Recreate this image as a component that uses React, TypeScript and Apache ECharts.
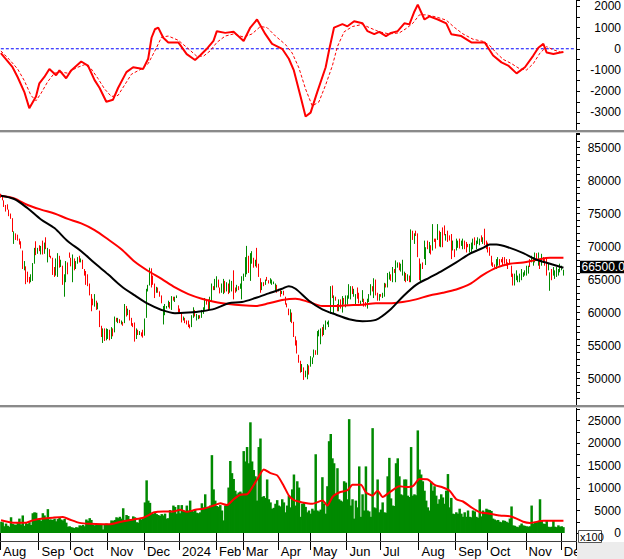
import React, { useEffect, useRef } from 'react';
import * as echarts from 'echarts';

// ---- x axis: trading-day slots, month labels ----
const monthLabels = ['Aug', 'Sep', 'Oct', 'Nov', 'Dec', '2024', 'Feb', 'Mar', 'Apr', 'May', 'Jun', 'Jul', 'Aug', 'Sep', 'Oct', 'Nov', 'Dec'];
const monthStarts = [0, 23, 42, 64, 86, 107, 129, 145, 166, 185, 207, 227, 250, 272, 291, 314, 335];
const TOTAL_SLOTS = 344;

// ---- price (thousand VND): [open, close] per trading day ----
const candleOC: number[][] = [
  [78.0,77.4],[77.6,77.0],[77.0,76.0],[76.3,75.3],[76.4,75.6],[75.6,74.6],[75.0,74.2],[74.3,72.2],[70.4,72.3],[72.0,71.0],
  [71.8,70.9],[71.2,70.3],[70.8,69.7],[69.4,66.6],[66.4,67.8],[67.0,64.3],[66.2,64.6],[65.4,64.4],[64.6,65.8],[64.8,67.5],
  [67.4,69.8],[70.8,68.7],[68.9,69.8],[70.2,69.3],[68.8,70.1],[70.9,68.8],[68.9,70.6],[71.4,69.6],[67.6,69.8],[69.6,68.4],
  [68.6,68.2],[68.3,65.7],[66.9,65.4],[65.6,68.2],[65.4,69.0],[68.6,66.8],[66.9,68.0],[67.1,64.2],[62.4,65.8],[64.6,67.8],
  [67.6,65.8],[69.1,68.3],[68.3,67.0],[64.6,68.8],[68.2,66.4],[66.6,67.8],[67.4,68.4],[68.6,67.6],[67.6,68.2],[68.0,66.6],
  [66.6,65.6],[66.3,64.2],[65.8,64.0],[64.4,62.6],[62.8,60.2],[62.1,61.1],[60.9,62.8],[61.8,60.4],[60.5,61.5],[60.3,57.8],
  [58.0,56.3],[55.4,57.6],[57.6,55.7],[55.8,57.6],[56.0,57.5],[57.4,55.8],[56.0,57.8],[57.6,56.4],[57.0,59.4],[59.2,58.6],
  [58.4,59.2],[59.0,58.4],[58.2,58.8],[58.6,58.0],[58.4,61.3],[61.0,59.4],[59.6,60.6],[60.4,58.8],[59.2,58.0],[58.4,57.8],
  [58.5,55.6],[56.0,57.6],[57.4,56.6],[56.6,57.2],[57.0,56.4],[57.4,56.2],[56.5,59.1],[59.2,63.6],[63.2,64.2],[64.1,66.8],
  [66.7,63.8],[65.6,64.2],[64.4,62.2],[63.0,63.9],[63.8,63.0],[63.2,62.4],[62.6,61.4],[58.2,61.0],[59.6,61.3],[60.6,61.0],
  [60.8,61.8],[61.6,60.6],[60.4,62.5],[62.4,61.8],[61.6,62.4],[62.2,62.6],[61.1,60.0],[60.6,59.9],[60.0,58.5],[58.8,59.4],
  [59.2,58.4],[58.8,58.2],[58.8,57.8],[58.2,57.6],[57.8,59.6],[59.2,60.8],[60.4,59.4],[58.8,59.8],[59.0,59.6],[59.6,59.1],
  [59.2,60.4],[59.8,60.8],[60.4,62.2],[61.8,61.2],[62.0,60.4],[60.4,62.4],[61.6,64.4],[64.0,63.4],[63.4,65.1],[63.8,65.5],
  [65.0,63.8],[63.8,62.9],[63.0,64.4],[62.8,65.1],[64.8,63.0],[63.2,64.6],[64.4,62.8],[63.0,65.0],[63.2,64.8],[66.4,62.0],
  [63.8,63.0],[63.2,64.2],[64.0,63.4],[63.6,64.4],[62.0,65.5],[64.8,65.9],[65.4,68.4],[65.8,70.1],[68.6,66.0],[64.8,69.0],
  [67.4,69.3],[68.3,66.8],[67.0,68.0],[69.8,66.8],[67.4,65.4],[65.2,63.0],[63.4,64.6],[64.6,64.0],[64.2,65.0],[65.4,64.8],
  [64.9,64.4],[64.4,65.2],[64.2,65.0],[64.3,64.7],[63.2,64.4],[64.2,63.0],[63.6,63.2],[63.4,62.4],[62.8,63.3],[63.3,62.6],
  [62.4,61.2],[61.4,60.8],[60.6,59.6],[58.6,60.5],[60.0,58.4],[58.6,56.3],[56.4,55.0],[55.8,53.8],[53.6,52.4],[52.7,50.9],
  [51.0,52.2],[51.7,49.8],[50.2,51.2],[49.9,52.2],[52.0,50.6],[51.8,53.4],[52.2,53.2],[53.2,54.4],[54.3,53.6],[53.6,57.2],
  [56.4,57.4],[55.2,57.6],[57.8,56.4],[56.6,58.2],[57.4,58.8],[58.2,58.6],[57.8,58.8],[59.8,64.0],[64.1,62.2],[59.9,62.6],
  [62.4,61.8],[61.3,60.2],[60.2,62.0],[62.0,60.6],[60.0,62.5],[62.2,61.2],[60.8,62.6],[61.2,62.6],[62.1,64.3],[62.0,64.0],
  [64.0,62.8],[62.4,63.6],[61.2,62.8],[63.8,62.1],[63.0,61.4],[61.2,61.8],[61.6,63.4],[62.1,60.9],[61.6,60.9],[60.6,62.1],
  [61.6,62.8],[62.6,64.3],[64.0,63.2],[62.2,65.2],[65.0,62.6],[63.0,61.8],[61.8,62.8],[62.8,62.4],[62.2,63.0],[62.4,64.5],
  [64.4,63.8],[63.8,66.0],[65.0,66.2],[65.8,64.8],[64.6,66.9],[66.6,66.0],[64.6,67.9],[66.8,67.6],[67.6,66.4],[66.2,67.4],
  [65.6,68.0],[64.8,66.2],[66.0,64.6],[64.8,65.8],[65.6,64.6],[64.6,72.6],[72.4,71.0],[70.4,72.0],[72.4,71.6],[72.0,68.4],
  [68.2,64.9],[64.6,67.4],[67.6,66.6],[68.1,70.9],[67.2,69.9],[70.9,69.6],[69.0,70.7],[70.2,68.8],[69.4,73.4],[71.2,70.7],
  [71.2,69.7],[71.0,73.4],[72.4,70.0],[69.9,72.2],[72.9,69.9],[73.2,71.7],[70.9,71.9],[72.4,70.7],[71.7,70.9],[71.9,68.1],
  [69.4,70.9],[69.6,68.4],[69.4,71.2],[69.8,70.9],[71.2,69.7],[70.1,70.9],[69.6,71.2],[70.9,69.6],[70.7,69.1],[70.4,69.9],
  [69.1,70.4],[69.2,70.6],[69.6,71.2],[71.4,70.2],[69.6,70.9],[70.4,71.4],[70.2,71.2],[71.7,70.7],[70.4,71.4],[72.7,70.2],
  [70.9,69.6],[70.6,69.1],[69.9,68.6],[68.6,67.1],[67.6,66.9],[67.3,66.8],[66.6,68.1],[67.1,68.4],[68.1,67.1],[68.1,67.6],
  [68.4,67.1],[68.4,67.4],[68.1,67.1],[67.6,66.6],[68.1,67.4],[67.1,65.4],[65.9,64.1],[64.1,65.9],[64.9,66.4],[64.6,65.6],
  [64.6,65.9],[64.9,66.6],[65.4,66.1],[65.6,66.4],[65.6,67.1],[65.9,67.1],[68.1,66.9],[67.6,68.6],[67.1,68.4],[67.6,69.1],
  [69.0,68.1],[67.1,69.1],[67.9,66.6],[67.1,68.9],[68.4,67.6],[68.1,67.1],[68.4,65.6],[66.4,67.4],[63.3,66.1],[66.6,64.9],
  [65.6,66.9],[65.1,66.4],[65.4,66.9],[65.6,66.6],[66.1,67.4],[66.4,67.1],[65.6,66.5],
];
const lastPrice = 66500;

// ---- moving averages of price (thousand VND): [day index, value] ----
const maBlack: number[][] = [
  [0,77.7],[8,77.2],[16,75.8],[24,74.1],[32,72.8],[40,70.8],[48,69.3],[56,67.5],[64,65.8],[72,64.0],[80,62.6],[88,61.3],
  [96,60.4],[104,59.9],[112,60.0],[120,60.2],[128,60.6],[136,61.4],[144,61.6],[152,62.2],[160,62.9],[168,63.6],[172,64.0],
  [176,63.6],[184,61.8],[192,60.5],[200,59.7],[208,59.0],[216,58.7],[224,58.9],[232,60.3],[240,62.4],[248,64.2],[256,65.3],
  [264,66.4],[272,67.6],[280,68.9],[288,69.8],[292,70.3],[296,70.3],[304,69.8],[312,69.0],[320,68.0],[328,67.4],[336,66.8],
];
const maRed: number[][] = [
  [0,77.7],[8,77.3],[16,76.3],[24,75.6],[32,75.0],[40,74.2],[48,73.5],[56,72.5],[64,71.1],[72,69.6],[80,67.7],[88,66.3],
  [96,65.1],[104,63.8],[112,62.8],[120,62.1],[128,61.6],[136,61.3],[144,61.1],[152,61.0],[160,61.4],[168,61.9],[176,62.1],
  [184,61.6],[192,61.0],[200,61.0],[208,61.1],[216,61.2],[224,61.4],[232,61.4],[240,61.6],[248,62.0],[256,62.6],[264,63.0],
  [272,63.5],[280,64.3],[288,65.7],[296,66.8],[304,67.4],[312,67.6],[320,68.0],[328,68.3],[336,68.3],
];

// ---- volume (x100) ----
const volumes: number[] = [
  2500,2400,1500,2100,1600,1400,3500,2000,1900,1800, 2200,3200,1900,3900,1600,2200,2000,2400,1800,4400,
  4600,4500,3000,3100,2700,4400,3900,3200,5300,3000, 3000,2900,3200,2600,3100,3400,3000,2800,3100,2300,
  1400,1500,1300,1200,1100,1300,1200,1700,1600,1800, 1500,3000,2700,3300,2900,1800,1700,1900,1800,2000,
  2000,800,2000,2100,1900,2000,2800,2700,2900,3500, 3300,3600,3200,5500,2900,4000,3800,3100,2900,3700,
  3500,2400,2300,3200,3000,3300,6800,11700,7200,6700, 4500,4300,4700,4200,4000,3800,4200,3900,4300,3200,
  3300,5100,4600,6100,5800,4300,6200,4400,6200,5000, 4800,6100,5000,7200,5000,4800,5100,4500,4400,4600,
  6600,5700,8600,5700,5700,6100,17300,9700,7200,6000, 5800,6200,5000,2800,6100,6000,10100,16000,13300,12000,
  9400,8600,9000,9200,8800,18200,15900,19100,15500,24600, 15900,14000,12600,7200,19100,21000,8000,8200,7800,11900,
  7500,6800,5400,5600,6500,7300,6100,5900,7500,6800, 4600,6100,8300,5700,9700,13000,6100,11500,10100,3600,
  6500,6800,5800,4600,5000,4300,5400,5000,17500,5000, 4800,5200,12400,6500,4300,10400,20400,22000,16600,15500,
  8600,14400,7500,7200,7000,11500,11200,7500,25300,6100, 7500,3200,7200,5700,14800,3600,8600,5000,14800,5000,
  4800,3600,23300,5700,5500,11900,4600,5200,6800,4600, 4500,12600,16700,7700,6100,6000,15500,16600,12600,8600,
  8400,11900,11900,8300,8000,19100,8300,8600,8400,22800, 14100,13000,11500,9400,7200,5700,5000,11400,9400,10400,
  8300,6500,7500,8600,7900,6500,9400,13100,5700,7800, 4300,4200,4600,4300,5400,4300,3600,4600,3600,5000,
  3600,3500,5000,4800,3600,3400,7500,3700,5000,4700, 5400,5200,5100,4900,3200,3000,2800,2900,2500,2400,
  2800,2700,2500,2300,3200,5900,1700,1600,1400,1300, 1700,2100,1700,1600,1500,1400,1500,6100,2100,2500,
  2400,2600,7500,2800,2100,2000,2800,1400,1300,1400, 2800,1400,1300,1700,1400,1500,1300,
];
const volMa: number[][] = [
  [0,2830],[7,2300],[15,2300],[19,2800],[25,3200],[31,3400],[37,3550],[41,3000],[47,2250],[53,2030],[61,1960],[65,1960],
  [71,2460],[79,3000],[85,3400],[88,3900],[91,4570],[97,4780],[103,4780],[107,5150],[111,4700],[116,5150],[121,5400],
  [127,6100],[131,6600],[135,6200],[139,7500],[143,8500],[147,8600],[149,9500],[153,11900],[157,14100],[161,13300],
  [165,12800],[169,10400],[172,8300],[175,7300],[180,6800],[186,6500],[192,7200],[195,6100],[198,8000],[202,9000],
  [207,9500],[210,10700],[215,10700],[218,9000],[222,8300],[225,9400],[228,8000],[232,9000],[238,10400],[242,10200],
  [246,10400],[250,12000],[255,11900],[259,10700],[264,10100],[268,9400],[272,7500],[276,7000],[281,5700],[286,4600],
  [292,4300],[298,3900],[304,3700],[308,3200],[312,2500],[316,2250],[324,2700],[336,2700],
];

// ---- MACD oscillator: [day index, value] ----
const macd: number[][] = [
  [0,-200],[7,-870],[10,-1330],[14,-2030],[17,-2800],[21,-2250],[23,-1630],[26,-1330],[29,-950],[33,-1250],[35,-1020],
  [39,-1390],[42,-1020],[48,-600],[52,-790],[56,-1480],[59,-1850],[63,-2500],[67,-2400],[70,-1850],[75,-1100],[79,-870],
  [85,-950],[88,-470],[90,520],[92,920],[94,1000],[97,520],[100,300],[106,300],[111,-250],[116,-530],[119,-320],[123,0],
  [127,370],[129,830],[134,750],[139,800],[145,370],[149,1000],[153,1380],[158,690],[162,230],[168,0],[172,-470],
  [175,-1020],[179,-2250],[182,-3190],[185,-3010],[189,-2030],[194,-870],[196,-80],[199,1000],[204,1160],[207,1060],
  [211,1300],[216,1200],[219,830],[223,690],[226,800],[230,600],[233,750],[237,830],[241,1200],[244,1150],[247,1760],
  [249,2080],[253,1380],[256,1530],[261,1380],[266,1200],[269,690],[275,600],[281,300],[287,300],[289,300],[294,-320],
  [299,-640],[303,-790],[308,-1160],[313,-870],[318,-320],[321,50],[324,230],[326,-180],[330,-250],[334,-180],[336,-150],
];
const macdSignal: number[][] = [
  [0,-100],[5,-500],[10,-950],[14,-1500],[18,-2200],[21,-2450],[24,-2100],[28,-1550],[32,-1150],[36,-1100],[40,-1150],
  [45,-900],[50,-750],[54,-950],[58,-1400],[62,-1900],[66,-2250],[70,-2200],[74,-1700],[78,-1200],[84,-950],[88,-700],
  [92,-100],[96,550],[100,600],[106,400],[112,0],[117,-350],[121,-350],[125,-100],[129,300],[134,600],[139,700],[145,550],
  [150,700],[155,1050],[159,1000],[164,600],[170,200],[174,-200],[178,-900],[182,-1900],[186,-2700],[190,-2500],
  [194,-1700],[198,-800],[201,100],[205,800],[210,1050],[216,1150],[220,1000],[226,800],[232,700],[238,750],[242,950],
  [246,1200],[250,1600],[254,1600],[260,1500],[266,1350],[271,1000],[276,700],[282,450],[288,350],[292,150],[296,-200],
  [300,-500],[305,-700],[310,-950],[314,-1000],[318,-700],[322,-200],[326,100],[330,-50],[334,-150],
];
const zeroLevel = 0;

const GREEN = '#008a00';
const RED = '#ff0000';
const BLUE = '#0000ff';
const FONT = '"Liberation Sans", Arial, sans-serif';

export default function App() {
  const ref = useRef<HTMLDivElement>(null);

  useEffect(() => {
    const chart = echarts.init(ref.current!, null, { renderer: 'svg' });
    const cats = Array.from({ length: TOTAL_SLOTS }, (_, i) => String(i));
    const labelAt = new Map<number, string>(monthStarts.map((s, k) => [s, monthLabels[k]]));
    const candleData = candleOC.map(([o, c]) => [o * 1000, c * 1000, Math.min(o, c) * 1000, Math.max(o, c) * 1000]);
    const k = (arr: number[][]) => arr.map(([i, v]) => [i, v * 1000]);

    const plotW = 576;
    const grids = [
      { left: 0, width: plotW, top: 0, height: 123 },
      { left: 0, width: plotW, top: 133, height: 272 },
      { left: 0, width: plotW, top: 407, height: 126 },
    ];

    const xAxes = [0, 1, 2].map((g) => ({
      type: 'category',
      gridIndex: g,
      data: cats,
      boundaryGap: true,
      axisLine: { show: false },
      splitLine: { show: false },
      axisTick: g === 2
        ? { show: true, interval: (i: number) => labelAt.has(i), length: 17, lineStyle: { color: '#000', width: 1 } }
        : { show: false },
      axisLabel: g === 2
        ? {
            show: true,
            interval: (i: number) => labelAt.has(i),
            formatter: (_v: string, i: number) => labelAt.get(i) ?? '',
            align: 'left',
            padding: [0, 0, 0, 2],
            margin: 3,
            fontSize: 13,
            color: '#000',
            fontFamily: FONT,
          }
        : { show: false },
      offset: g === 2 ? 9 : 0,
    }));

    const yAx = (g: number, min: number, max: number, interval: number, labelStep: number) => ({
      type: 'value',
      gridIndex: g,
      position: 'right',
      min,
      max,
      interval,
      scale: true,
      axisLine: { show: false },
      splitLine: { show: false },
      axisTick: { show: true, length: 4, lineStyle: { color: '#000' } },
      axisLabel: {
        formatter: (v: number) => (Math.abs(v % labelStep) < 1e-6 ? String(v) : ''),
        align: 'right',
        margin: 45,
        fontSize: 12,
        color: '#000',
        fontFamily: FONT,
      },
    });

    const option: any = {
      animation: false,
      backgroundColor: '#fff',
      grid: grids,
      xAxis: xAxes,
      yAxis: [
        yAx(0, -3500, 2300, 500, 1000),
        yAx(1, 46000, 87200, 1000, 5000),
        yAx(2, 0, 28000, 2500, 5000),
      ],
      series: [
        {
          type: 'line', xAxisIndex: 0, yAxisIndex: 0,
          data: [[0, zeroLevel], [TOTAL_SLOTS - 1, zeroLevel]], showSymbol: false, silent: true,
          lineStyle: { color: BLUE, width: 1, type: [3, 2] }, z: 2,
        },
        {
          type: 'line', xAxisIndex: 0, yAxisIndex: 0, data: macdSignal, showSymbol: false,
          lineStyle: { color: RED, width: 1, type: [3, 2] }, z: 3,
        },
        {
          type: 'line', xAxisIndex: 0, yAxisIndex: 0, data: macd, showSymbol: false,
          lineStyle: { color: RED, width: 2 }, z: 4,
        },
        {
          type: 'candlestick', xAxisIndex: 1, yAxisIndex: 1, data: candleData, barWidth: 1,
          itemStyle: { color: GREEN, color0: RED, borderColor: GREEN, borderColor0: RED, borderWidth: 1 },
        },
        {
          type: 'line', xAxisIndex: 1, yAxisIndex: 1, data: k(maRed), showSymbol: false, smooth: 0.3,
          lineStyle: { color: RED, width: 2 }, z: 5,
        },
        {
          type: 'line', xAxisIndex: 1, yAxisIndex: 1, data: k(maBlack), showSymbol: false, smooth: 0.3,
          lineStyle: { color: '#000', width: 2 }, z: 6,
        },
        {
          type: 'bar', xAxisIndex: 2, yAxisIndex: 2, data: volumes, barWidth: 2.5,
          itemStyle: { color: GREEN },
        },
        {
          type: 'line', xAxisIndex: 2, yAxisIndex: 2, data: volMa, showSymbol: false, smooth: 0.2,
          lineStyle: { color: RED, width: 2 }, z: 5,
        },
      ],
    };
    chart.setOption(option);

    const py = chart.convertToPixel({ yAxisIndex: 1 } as any, lastPrice) as number;
    const graphics: any[] = [
      { type: 'line', z: 50, shape: { x1: 576.5, y1: 0, x2: 576.5, y2: 542 }, style: { stroke: '#000', lineWidth: 1 } },
      { type: 'rect', z: 60, shape: { x: 0, y: 130, width: 624, height: 2 }, style: { fill: '#8a8a8a' } },
      { type: 'rect', z: 60, shape: { x: 0, y: 132, width: 624, height: 1 }, style: { fill: '#d4d4d4' } },
      { type: 'rect', z: 60, shape: { x: 0, y: 405, width: 624, height: 2 }, style: { fill: '#8a8a8a' } },
      { type: 'rect', z: 60, shape: { x: 0, y: 407, width: 624, height: 1 }, style: { fill: '#d4d4d4' } },
      { type: 'line', z: 50, shape: { x1: 0, y1: 541.5, x2: 577, y2: 541.5 }, style: { stroke: '#404040', lineWidth: 1 } },
      { type: 'rect', z: 50, shape: { x: 577, y: 542, width: 47, height: 17 }, style: { fill: '#ececec' } },
      { type: 'rect', z: 70, shape: { x: 578.5, y: 530.5, width: 23, height: 12 }, style: { fill: '#fff', stroke: '#555', lineWidth: 1 } },
      { type: 'text', z: 71, x: 580, y: 531.5, style: { text: 'x100', fontSize: 11, fill: '#000', fontFamily: FONT } },
      { type: 'rect', z: 70, shape: { x: 580, y: py - 9, width: 50, height: 12.5 }, style: { fill: '#000' } },
      {
        type: 'text', z: 71, x: 581.5, y: py - 2.8,
        style: { text: lastPrice.toFixed(2), fontSize: 12, fill: '#fff', fontFamily: FONT, verticalAlign: 'middle' },
      },
    ];
    chart.setOption({ graphic: graphics });

    return () => chart.dispose();
  }, []);

  return <div ref={ref} style={{ position: 'absolute', left: 0, top: 0, width: 624, height: 559 }} />;
}
